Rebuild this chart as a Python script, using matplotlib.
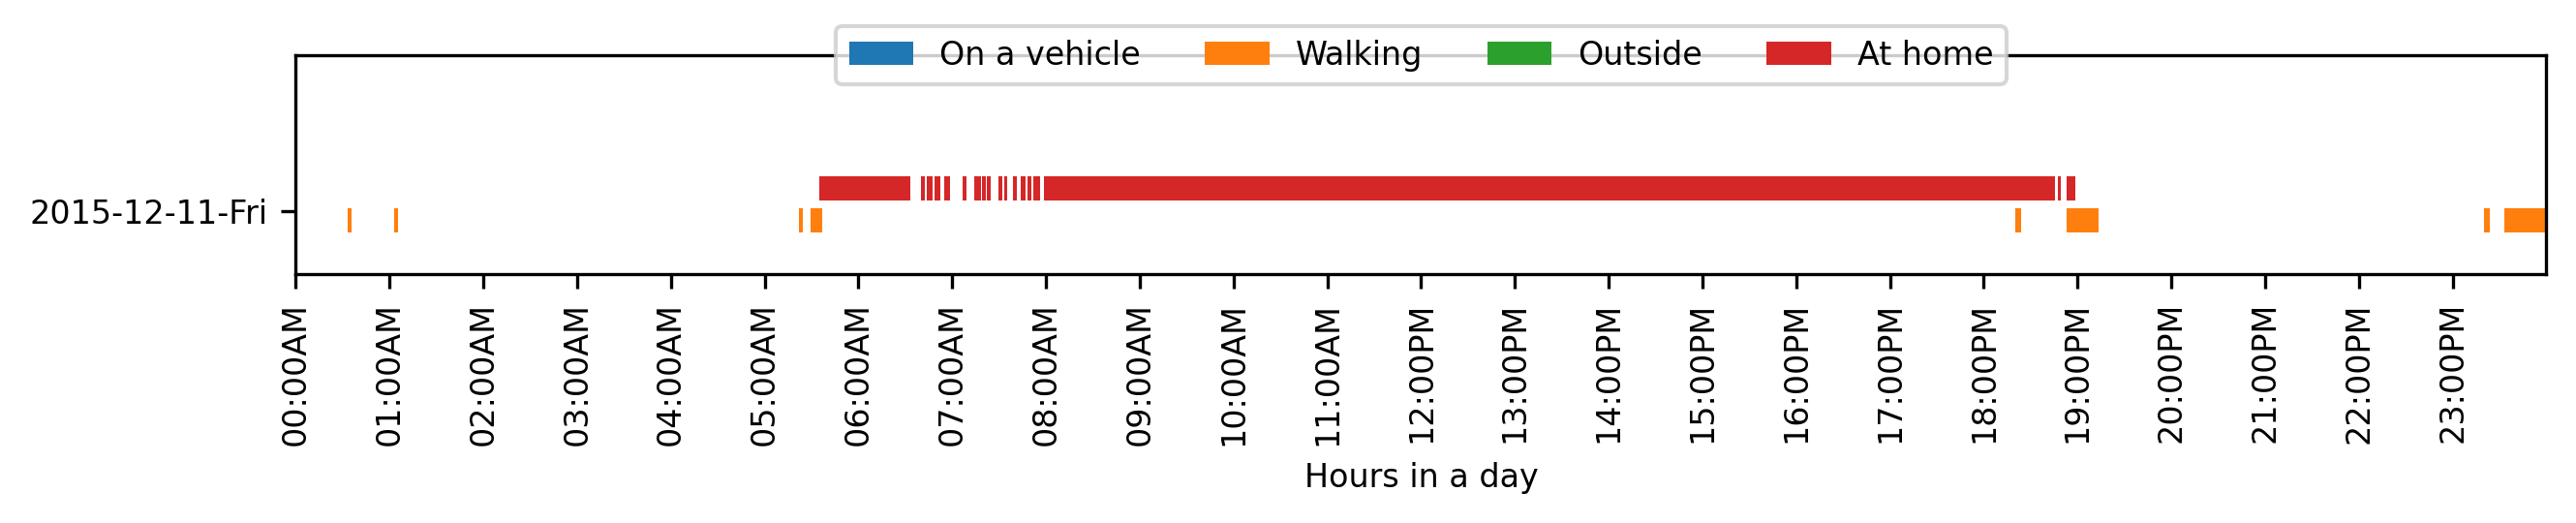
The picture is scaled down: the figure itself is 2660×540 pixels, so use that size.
import matplotlib
matplotlib.use("Agg")
import matplotlib.pyplot as plt
from matplotlib.patches import Patch

# Datos: intervalos (inicio, fin) en horas del dia
dia = "2015-12-11-Fri"

caminando_inicio = [0.556, 1.048, 5.367, 5.488, 18.333, 18.881, 23.332, 23.547]
caminando_fin = [0.597, 1.089, 5.405, 5.612, 18.395, 19.222, 23.401, 24.0]

casa_inicio = [5.582, 6.667, 6.726, 6.809, 6.916, 7.111, 7.236, 7.319, 7.372,
               7.491, 7.550, 7.651, 7.727, 7.799, 7.864, 7.976, 18.788, 18.881]
casa_fin = [6.553, 6.708, 6.791, 6.874, 6.975, 7.152, 7.307, 7.355, 7.407,
            7.538, 7.591, 7.692, 7.781, 7.846, 7.935, 18.758, 18.824, 18.972]

actividades = ["On a vehicle", "Walking", "Outside", "At home"]
colores = ["#1f77b4", "#ff7f0e", "#2ca02c", "#d62728"]

horas = list(range(24))
etiquetas_horas = ["00:00AM", "01:00AM", "02:00AM", "03:00AM", "04:00AM", "05:00AM",
                   "06:00AM", "07:00AM", "08:00AM", "09:00AM", "10:00AM", "11:00AM",
                   "12:00PM", "13:00PM", "14:00PM", "15:00PM", "16:00PM", "17:00PM",
                   "18:00PM", "19:00PM", "20:00PM", "21:00PM", "22:00PM", "23:00PM"]

# Figura
fig = plt.figure(figsize=(2660 / 300, 540 / 300), dpi=300)
ax = fig.add_axes([0.11481, 0.47593, 0.87372, 0.41796])

alto = 1.0
y_caminando = 1.75
y_casa = 3.09

ax.broken_barh([(i, f - i) for i, f in zip(caminando_inicio, caminando_fin)],
               (y_caminando, alto), facecolors=colores[1])
ax.broken_barh([(i, f - i) for i, f in zip(casa_inicio, casa_fin)],
               (y_casa, alto), facecolors=colores[3])

ax.set_xlim(0, 24)
ax.set_ylim(0, 9.14)
ax.set_yticks([2.62])
ax.set_yticklabels([dia], fontsize=8)
ax.set_xticks(horas)
ax.set_xticklabels(etiquetas_horas, rotation=90, fontsize=8)
ax.set_xlabel("Hours in a day", fontsize=8)

handles = [Patch(facecolor=c, label=a) for a, c in zip(actividades, colores)]
ax.legend(handles=handles, loc="center", bbox_to_anchor=(0.5, 1.0), ncol=4, fontsize=8)

fig.savefig("out.png", dpi=300)
